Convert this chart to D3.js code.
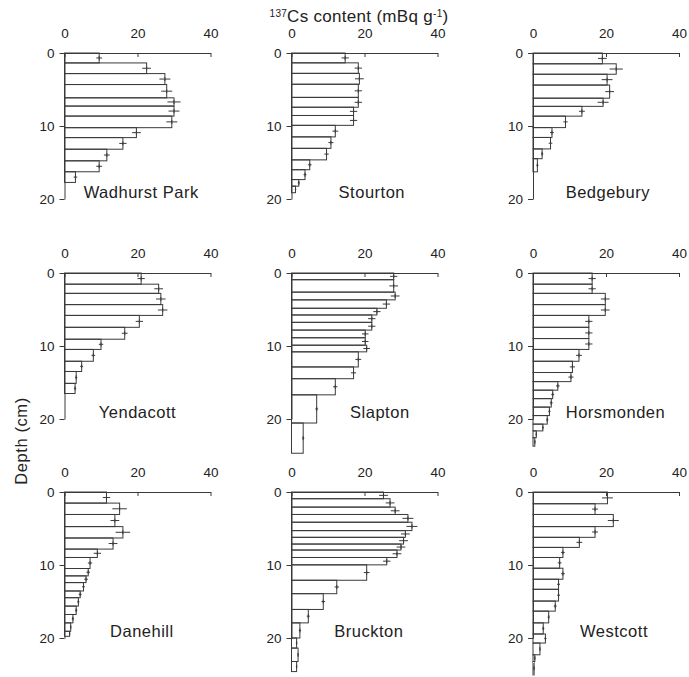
<!DOCTYPE html>
<html>
<head>
<meta charset="utf-8">
<script src="https://cdn.jsdelivr.net/npm/d3@7"></script>
<style>
  body { margin: 0; background: #fff; }
  svg { display: block; font-family: "Liberation Sans", Arial, sans-serif; }
</style>
</head>
<body>
<div id="chart"></div>
<script>
// depth boundaries (cm), 137Cs content (mBq/g) and error for each slice
const wadhurstDepth = [0, 1.36, 2.82, 4.32, 6.14, 7.27, 8.64, 10.23, 11.59, 13.18, 14.77, 16.27, 17.73];
const wadhurstCs = [9.5, 22.5, 27.5, 28, 30, 30, 29.4, 19.7, 16, 11.6, 9.5, 3];
const wadhurstErr = [0.8, 1.2, 1.5, 1.5, 1.8, 1.5, 1.5, 1.2, 1.0, 0.8, 0.8, 0.5];

const stourtonDepth = [0, 1.35, 2.79, 4.28, 6.08, 7.43, 8.56, 9.91, 11.49, 13.06, 14.64, 15.99, 17.34, 18.24, 19.14];
const stourtonCs = [14.7, 18.3, 18.6, 18.3, 18.3, 17, 17, 12, 10.8, 9.6, 5, 3.7, 2, 1.1];
const stourtonErr = [1.0, 1.0, 1.2, 1.0, 1.0, 1.0, 1.0, 0.8, 0.7, 0.6, 0.5, 0.4, 0.3, 0.2];

const bedgeburyDepth = [0, 1.48, 2.91, 4.39, 6.19, 7.31, 8.65, 10.22, 11.57, 13.14, 14.48, 16.28];
const bedgeburyCs = [19, 22.8, 20.3, 21, 19.2, 13.4, 8.9, 5.2, 4.8, 2.5, 1.2];
const bedgeburyErr = [1.2, 1.8, 1.5, 1.2, 1.5, 0.8, 0.6, 0.5, 0.5, 0.3, 0.3];

const yendacottDepth = [0, 1.53, 2.79, 4.33, 5.81, 7.44, 9.07, 10.47, 12.09, 13.49, 15.12, 16.51];
const yendacottCs = [21, 25.8, 26.4, 26.9, 20.5, 16.5, 10, 7.9, 4.7, 3.2, 2.9];
const yendacottErr = [1.0, 1.2, 1.3, 1.3, 1.0, 0.8, 0.6, 0.5, 0.4, 0.3, 0.3];

const slaptonDepth = [0, 0.92, 2.62, 3.68, 4.83, 5.75, 6.76, 7.82, 8.87, 9.89, 10.8, 12.87, 14.48, 16.69, 20.55, 24.69];
const slaptonCs = [28, 28, 28.4, 26, 23.4, 22, 22, 20.2, 20.2, 20.6, 18.3, 17, 12, 6.9, 3.2];
const slaptonErr = [1.0, 1.2, 1.2, 1.0, 1.0, 1.0, 1.0, 0.9, 0.9, 0.9, 0.8, 0.7, 0.6, 0.4, 0.3];

const horsmondenDepth = [0, 1.53, 2.79, 4.33, 5.81, 7.44, 8.98, 10.47, 12.09, 13.63, 14.88, 16.05, 17.21, 18.37, 19.53, 20.7, 21.63, 22.56, 23.72];
const horsmondenCs = [16.2, 16.2, 19.8, 19.8, 15.3, 15.3, 15.3, 12.6, 10.8, 10.4, 6.8, 5.4, 5, 4.5, 3.9, 2.7, 0.9, 0.5];
const horsmondenErr = [1.0, 1.0, 1.2, 1.2, 1.0, 1.0, 1.0, 0.8, 0.7, 0.7, 0.5, 0.4, 0.4, 0.3, 0.3, 0.2, 0.2, 0.2];

const danehillDepth = [0, 1.52, 3.08, 4.74, 6.3, 7.82, 8.97, 10.48, 11.49, 12.41, 13.56, 14.48, 15.63, 16.78, 17.93, 19.08, 19.77];
const danehillCs = [11.5, 15.1, 13.8, 16, 13.3, 9, 7, 6.5, 5.9, 5.2, 4.3, 3.8, 3.2, 2.3, 1.7, 1.4];
const danehillErr = [1.0, 2.0, 1.2, 2.0, 1.2, 1.0, 0.6, 0.5, 0.5, 0.4, 0.4, 0.3, 0.3, 0.3, 0.2, 0.2];

const brucktonDepth = [0, 0.92, 2.07, 3.08, 4.14, 5.29, 6.21, 7.13, 7.95, 8.97, 9.98, 12.09, 13.93, 16.09, 17.93, 20, 21.38, 23.22, 24.6];
const brucktonCs = [25.2, 27, 28.4, 31.9, 33, 31.2, 30.7, 30, 28.9, 26.1, 20.6, 12.4, 8.7, 4.6, 2.3, 1.4, 1.8, 1.4];
const brucktonErr = [1.2, 1.2, 1.2, 1.5, 1.5, 1.2, 1.2, 1.2, 1.2, 1.0, 0.8, 0.6, 0.5, 0.4, 0.3, 0.2, 0.2, 0.2];

const westcottDepth = [0, 1.61, 3.08, 4.74, 6.21, 7.59, 8.97, 10.44, 11.95, 13.33, 14.94, 16.32, 17.93, 19.45, 20.69, 22.3, 23.22, 25.06];
const westcottCs = [20.4, 17, 22, 17, 12.7, 8.2, 7.3, 8.2, 7, 7, 6.1, 4.3, 2.8, 3.4, 1.9, 0.5, 0.3];
const westcottErr = [1.5, 0.8, 1.5, 0.8, 0.8, 0.5, 0.5, 0.5, 0.4, 0.4, 0.4, 0.3, 0.3, 0.3, 0.2, 0.2, 0.2];

const siteNames = ["Wadhurst Park", "Stourton", "Bedgebury", "Yendacott", "Slapton", "Horsmonden", "Danehill", "Bruckton", "Westcott"];
const xTicks = [0, 20, 40];
const yTicks = [0, 10, 20];

const sites = [
  [wadhurstDepth, wadhurstCs, wadhurstErr],
  [stourtonDepth, stourtonCs, stourtonErr],
  [bedgeburyDepth, bedgeburyCs, bedgeburyErr],
  [yendacottDepth, yendacottCs, yendacottErr],
  [slaptonDepth, slaptonCs, slaptonErr],
  [horsmondenDepth, horsmondenCs, horsmondenErr],
  [danehillDepth, danehillCs, danehillErr],
  [brucktonDepth, brucktonCs, brucktonErr],
  [westcottDepth, westcottCs, westcottErr]
].map((s, i) => ({
  name: siteNames[i],
  slices: s[1].map((v, j) => ({ top: s[0][j], bottom: s[0][j + 1], value: v, err: s[2][j] }))
}));

// layout
const width = 689, height = 677;
const colX = [64.5, 291.5, 533];
const rowY = [53, 273, 492];
const panelW = 146, panelH = 146;
const nameX = [21, 22, 20.5, 20, 24.2, 22.6, 21.2, 21.2, 22.2];
const ink = "#3a3a3a";
const font = "'Liberation Sans', Arial, sans-serif";

const svg = d3.select("#chart").append("svg")
  .attr("width", width)
  .attr("height", height);

const xScale = d3.scaleLinear().domain([0, 40]).range([0, panelW]);
const yScale = d3.scaleLinear().domain([0, 20]).range([0, panelH]);

sites.forEach((site, i) => {
  const g = svg.append("g")
    .attr("transform", `translate(${colX[i % 3]},${rowY[Math.floor(i / 3)]})`);

  // slices as outlined bars
  g.selectAll("rect.slice")
    .data(site.slices)
    .join("rect")
    .attr("class", "slice")
    .attr("x", 0)
    .attr("y", d => yScale(d.top))
    .attr("width", d => xScale(d.value))
    .attr("height", d => yScale(d.bottom) - yScale(d.top))
    .attr("fill", "none")
    .attr("stroke", ink)
    .attr("stroke-width", 1);

  // error bars
  const mid = d => yScale((d.top + d.bottom) / 2);
  const eb = g.selectAll("g.err")
    .data(site.slices)
    .join("g")
    .attr("class", "err");
  eb.append("line")
    .attr("x1", d => xScale(d.value - d.err))
    .attr("x2", d => xScale(d.value + d.err))
    .attr("y1", mid)
    .attr("y2", mid)
    .attr("stroke", ink);
  eb.append("line")
    .attr("x1", d => xScale(d.value))
    .attr("x2", d => xScale(d.value))
    .attr("y1", d => mid(d) - 2)
    .attr("y2", d => mid(d) + 2)
    .attr("stroke", ink);

  // top axis (ticks point down into the plot)
  const xAxis = g.append("g")
    .call(d3.axisTop(xScale).tickValues(xTicks).tickSize(-4).tickSizeOuter(0).tickPadding(15));
  // left axis
  const yAxis = g.append("g")
    .call(d3.axisLeft(yScale).tickValues(yTicks).tickSize(5).tickSizeOuter(0).tickPadding(5));

  [xAxis, yAxis].forEach(a => {
    a.select(".domain").attr("stroke", ink);
    a.selectAll(".tick line").attr("stroke", ink);
    a.selectAll(".tick text")
      .attr("fill", "#222")
      .attr("font-size", 13.5)
      .attr("font-family", font);
  });

  g.append("text")
    .attr("x", xScale(nameX[i]))
    .attr("y", yScale(19.9))
    .attr("text-anchor", "middle")
    .attr("font-size", 16.5)
    .attr("letter-spacing", 0.5)
    .attr("fill", "#222")
    .text(site.name);
});

// overall axis titles
const title = svg.append("text")
  .attr("x", 359)
  .attr("y", 22)
  .attr("text-anchor", "middle")
  .attr("font-size", 17)
  .attr("letter-spacing", 0.3)
  .attr("fill", "#222");
title.append("tspan").attr("font-size", 10).attr("dy", -5).text("137");
title.append("tspan").attr("dy", 5).text("Cs content (mBq g");
title.append("tspan").attr("font-size", 10).attr("dy", -5).text("-1");
title.append("tspan").attr("dy", 5).text(")");

svg.append("text")
  .attr("transform", "translate(27,441) rotate(-90)")
  .attr("text-anchor", "middle")
  .attr("font-size", 16.5)
  .attr("letter-spacing", 0.6)
  .attr("fill", "#222")
  .text("Depth (cm)");
</script>
</body>
</html>
